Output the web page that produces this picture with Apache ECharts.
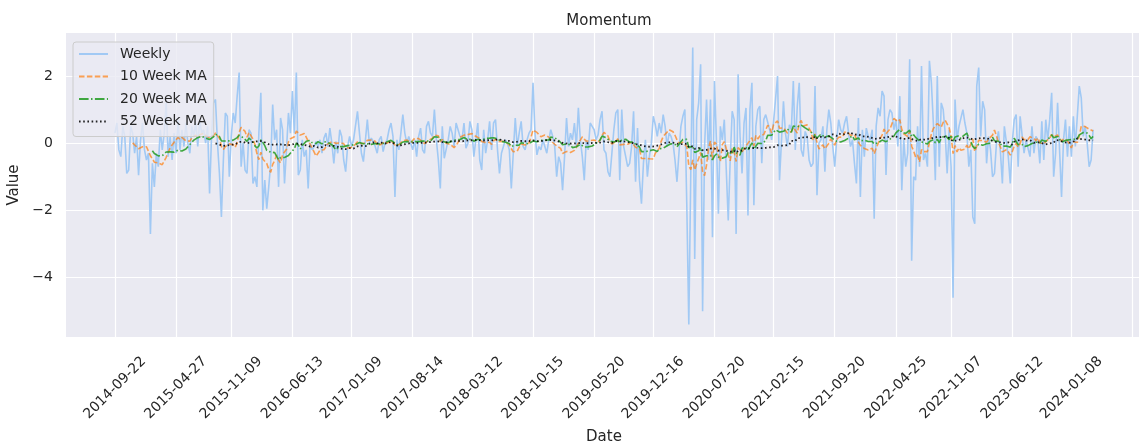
<!DOCTYPE html>
<html><head><meta charset="utf-8">
<script src="https://cdn.jsdelivr.net/npm/echarts@6/dist/echarts.min.js"></script>
<style>html,body{margin:0;padding:0;background:#fff}#c{width:1139px;height:446px}</style>
</head><body><div id="c"></div>
<script>
const startDate = '2014-09-22';
const tickLabels = ['2014-09-22','2015-04-27','2015-11-09','2016-06-13','2017-01-09','2017-08-14','2018-03-12','2018-10-15','2019-05-20','2019-12-16','2020-07-20','2021-02-15','2021-09-20','2022-04-25','2022-11-07','2023-06-12','2024-01-08'];
const extraTicks = ['2024-08-12'];
const yTicks = [-4, -2, 0, 2];
const seriesNames = ['Weekly', '10 Week MA', '20 Week MA', '52 Week MA'];
const maWindows = [10, 20, 52];

const weekly = [
// 2014-09 .. 2015-10
0.3, 0.6, -0.2, -0.4, 0.5, 0.2, -0.9, -0.8, 0.5, 0.3,
-0.3, 0.2, -0.95, 0.1, 0.6, -0.2, -0.5, -0.3, -2.7, -0.6,
-1.3, -0.3, -0.7, 0.4, -0.2, 0.3, 1.2, -0.4, 0.2, -0.5,
0.3, -0.3, 0.7, -0.2, 0.4, -0.1, 0.6, 0.0, -0.3, 0.5,
0.2, 0.6, -0.1, 0.7, 0.3, 0.4, 0.0, 0.5, -1.5, 0.2,
1.2, 1.3, 0.0, -0.9, -2.2, -0.5, 0.9, 0.8,
// 2015-11 .. 2017-01
-1.0, 0.2, 0.9, 0.6, 1.4, 2.1, -0.7, 0.0, -0.8, -0.9,
0.4, 0.3, -1.2, -1.0, -1.3, 0.3, 1.5, -2.0, -1.1, -1.95,
-1.3, -0.6, 1.15, 0.1, 0.4, -1.3, 0.75, 0.4, -1.2, -0.2,
0.9, 0.3, 1.55, 0.3, 2.1, -0.95, -0.8, 0.1, -0.4, -0.2,
-1.35, 0.0, -0.2, -0.1, 0.05, -0.1, 0.1, -0.3, 0.15, 0.3,
-0.1, 0.45, 0.0, -0.6, 0.05, -0.3, 0.4, 0.2, -0.5, -0.85,
-0.1, 0.2, -0.1, 0.1,
// 2017-01 .. 2018-03
0.15, 0.95, 0.3, -0.3, -0.55, -0.6, 0.7, 0.0, 0.15, 0.05,
-0.1, -0.3, 0.1, 0.2, -0.25, 0.0, 0.1, 0.4, 0.6, 0.2,
-1.6, 0.1, -0.2, 0.3, 0.85, 0.3, 0.0, 0.2, 0.0, -0.2,
0.1, -0.4, 0.2, 0.45, -0.2, -0.3, 0.5, 0.65, 0.3, 0.2,
1.0, 0.1, -0.5, -1.35, 0.5, -0.45, -0.45, 0.1, 0.5, 0.3,
-0.1, 0.6, 0.55, 0.2, 0.1, 0.6, -0.15, 0.0, 0.65, 0.4,
-0.4, 0.1,
// 2018-04 .. 2019-05
0.6, -0.5, -0.8, 0.4, -0.3, 0.1, 0.65, -0.2, 0.6, 0.7,
-0.2, -0.9, -0.3, -0.1, 0.1, 0.0, -0.2, -1.35, -0.3, 0.75,
-0.1, 0.3, 0.65, -0.1, -0.2, 0.1, 0.3, 0.4, 1.8, 0.3,
-0.35, -0.1, -0.2, 0.1, 0.05, -0.3, 0.1, 0.4, 0.2, -0.1,
-1.0, -0.4, -0.6, -1.4, -0.4, 0.75, -0.1, 0.3, 0.1, 0.6,
-0.1, 1.05, 0.1, -0.4, -1.1, 0.1, -0.2, 0.6, 0.5, 0.4,
0.1,
// 2019-06 .. 2020-08
0.25, 0.7, 0.95, -0.2, -0.3, -0.85, -1.0, -0.3, 0.4, 0.9,
1.0, -1.1, 1.0, -0.1, -0.4, -0.7, -0.6, -0.1, 0.95, -1.15,
0.45, -1.1, -1.8, -0.6, 0.1, -1.0, -0.4, 0.0, 0.8, 0.55,
0.2, 0.6, 0.3, 0.85, 0.5, -0.1, 0.3, 0.2, 0.0, -0.5,
-1.15, -0.3, 0.5, 0.8, 1.0, -1.9, -5.4, -0.9, 2.85, -3.45,
0.7, 1.2, 2.35, -5.0, -0.1, 1.3, -0.5, 1.3, -2.8, 1.85,
0.1, -2.1, 0.5,
// 2020-08 .. 2021-10
0.1, 0.7, -0.8, -2.3, -0.5, 0.95, 0.7, -2.7, 2.05, 0.2,
-0.9, 0.6, 1.05, -2.15, 1.0, 1.8, -1.85, 0.5, 1.0, 1.1,
-0.6, 0.7, 0.85, 0.85, 0.4, 0.1, 0.65, 0.6, 2.0, -1.1,
-1.05, 1.25, 0.3, -0.1, 0.55, 0.4, 1.85, -0.2, 1.1, 1.8,
-0.2, -0.4, 0.35, 0.2, -0.5, -0.7, -0.6, 1.7, -1.55, 0.0,
0.1, 0.5, -0.85, 0.4, 1.0, 0.6, -0.1, -0.7, 0.1, 0.7,
0.4, 0.3,
// 2021-10 .. 2022-12
0.6, 0.8, 0.3, -0.1, 0.1, -0.6, -1.2, 0.75, -1.6, 0.4,
-0.4, 0.45, 0.2, 0.1, 0.4, -2.25, 0.5, 1.05, 0.8, 1.55,
1.4, -0.95, 0.7, 1.0, 0.9, 0.4, 0.7, -0.1, 1.4, -1.4,
0.1, -0.7, -0.3, 2.5, -3.5, -1.0, -1.1, 0.5, -0.7, 2.3,
-0.5, -0.3, -0.7, 2.45, 1.8, 0.6, -1.1, 2.0, -0.7, 1.2,
1.0, 0.3, -0.9, 0.4, -0.7, -4.6, 1.3, 0.1, 0.5, 0.5,
1.0, 0.6,
// 2023-01 .. 2024-03
0.3, -0.7, -0.2, -2.2, -2.4, 1.7, 2.25, 0.2, 1.25, 1.0,
-0.6, 0.2, -0.2, -1.0, -0.9, 0.0, 0.35, -0.25, -1.2, 0.5,
0.55, -0.4, -1.2, 0.0, 0.7, 0.85, -0.7, 0.8, 0.75, -0.3,
0.1, 0.1, -0.4, 0.5, -0.3, 0.2, 0.1, -0.6, 0.65, -0.5,
0.7, 0.1, 0.7, 1.5, -1.0, -0.3, 1.2, -0.2, -1.6, 0.1,
0.7, -0.4, 0.5, -0.4, 0.8, -0.1, 0.8, 1.7, 1.35, 0.2,
0.5, 0.0, -0.7, -0.5, 0.4
];

const DAY = 86400000;
function toMs(s){ const p = s.split('-').map(Number); return Date.UTC(p[0], p[1]-1, p[2]); }
function dayOf(s){ return Math.round((toMs(s) - toMs(startDate)) / DAY); }
function fmt(d){ const t = new Date(toMs(startDate) + d*DAY); const mm = String(t.getUTCMonth()+1).padStart(2,'0'); const dd = String(t.getUTCDate()).padStart(2,'0'); return t.getUTCFullYear()+'-'+mm+'-'+dd; }

const days = weekly.map((v,i)=>i*7);
const span = days[days.length-1] - days[0];
const xMin = days[0] - 0.05*span, xMax = days[days.length-1] + 0.05*span;

function rolling(w){
  const out = [];
  for (let i = w-1; i < weekly.length; i++){
    let s = 0; for (let j = i-w+1; j <= i; j++) s += weekly[j];
    out.push([days[i], s / w]);
  }
  return out;
}

const labelDays = tickLabels.map(dayOf);
const gridDays = labelDays.concat(extraTicks.map(dayOf));
const txt = '#262626';
const font = 'DejaVu Sans';

const styles = [
  {color:'#a1c9f4', type:'solid', width:1.6, opacity:1},
  {color:'#ff7f0e', type:[5.5,2.4], width:1.6, opacity:0.7},
  {color:'#2ca02c', type:[9.6,2.4,1.5,2.4], width:1.6, opacity:0.9},
  {color:'#000000', type:[1.6,2.6], width:1.8, opacity:0.85}
];

const seriesData = [weekly.map((v,i)=>[days[i], v])].concat(maWindows.map(rolling));

const chart = echarts.init(document.getElementById('c'), null, {renderer:'canvas'});
chart.setOption({
  animation: false,
  backgroundColor: '#ffffff',
  textStyle: {fontFamily: font, color: txt},
  title: {text:'Momentum', left: 604, top: 9, textAlign:'center',
    textStyle:{fontFamily:font, fontSize:15, fontWeight:'normal', color:txt}},
  grid: {left: 66, top: 33, width: 1076, height: 304, show: true, backgroundColor:'#eaeaf2', borderWidth: 0,
    containLabel: false, outerBoundsMode: 'none'},
  legend: {
    orient:'vertical', left: 73, top: 42, data: seriesNames,
    itemWidth: 29, itemHeight: 14, itemGap: 8.5,
    padding: [5, 7, 8, 5],
    itemStyle: {opacity: 0, borderWidth: 0},
    backgroundColor: 'rgba(234,234,242,0.8)', borderColor:'#cccccc', borderWidth:1, borderRadius:3,
    textStyle: {fontFamily:font, fontSize:14, color:txt, padding:[0,0,0,7]}
  },
  xAxis: {
    type:'value', min: xMin, max: xMax,
    name:'Date', nameLocation:'middle', nameGap: 93,
    nameTextStyle:{fontFamily:font, fontSize:15, color:txt},
    axisLine:{show:false},
    axisTick:{show:false, customValues: gridDays},
    axisLabel:{customValues: labelDays, formatter: v => fmt(v), rotate:45, align:'center', verticalAlign:'middle',
      margin: 51, fontFamily:font, fontSize:14, color:txt},
    splitLine:{show:true, lineStyle:{color:'#ffffff', width:1.2}}
  },
  yAxis: {
    type:'value', min:-5.77, max:3.28,
    name:'Value', nameLocation:'middle', nameGap: 38,
    nameTextStyle:{fontFamily:font, fontSize:15, color:txt},
    axisLine:{show:false},
    axisTick:{show:false, customValues: yTicks},
    axisLabel:{customValues: yTicks, formatter: v => (v < 0 ? '\u2212' + Math.abs(v) : String(v)),
      margin: 13, fontFamily:font, fontSize:14, color:txt},
    splitLine:{show:true, lineStyle:{color:'#ffffff', width:1.2}}
  },
  series: seriesNames.map((n,k)=>({
    name:n, type:'line', data: seriesData[k], symbol:'none', showSymbol:false,
    lineStyle:{color:styles[k].color, type:styles[k].type, width:styles[k].width, opacity:styles[k].opacity},
    itemStyle:{color:styles[k].color, opacity:styles[k].opacity},
    z: 2 + k
  }))
});
</script>
</body></html>
